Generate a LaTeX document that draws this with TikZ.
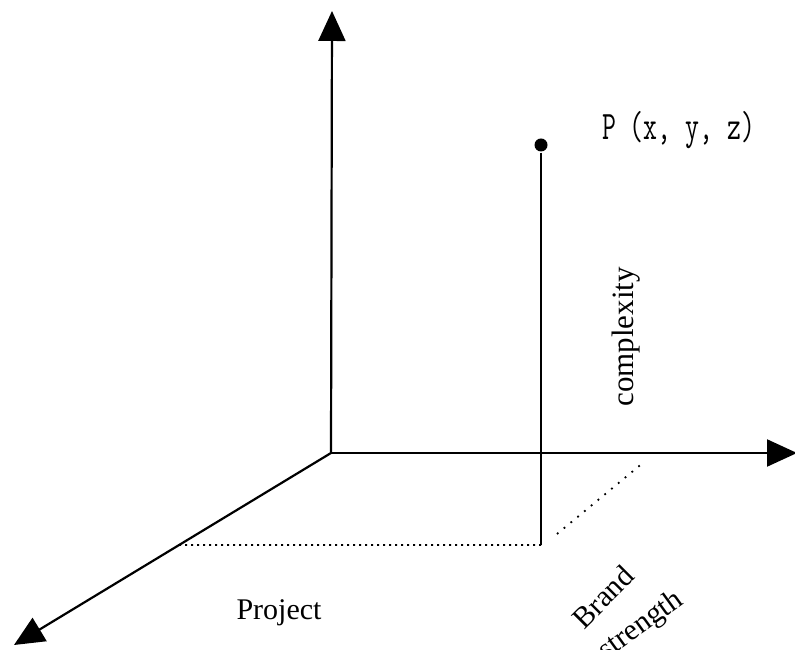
\documentclass[tikz,border=0pt]{standalone}
\usepackage{fontspec}
\setmainfont{Liberation Serif}
\usetikzlibrary{arrows.meta, calc}

\begin{document}
\begin{tikzpicture}[x=1pt, y=1pt, >={Triangle[length=30pt, width=27pt]}, line width=2.2pt,
        axislabel/.style={font=\fontsize{30}{36}\selectfont, inner sep=0pt},
        guide/.style={line width=1.8pt, dash pattern=on 1.8pt off 4.2pt}]
                \useasboundingbox (0,0) rectangle (795,650);

                \coordinate (O) at (331,197);
                \coordinate (ytip) at (332,639);
                \coordinate (xtip) at (797,197);
                \coordinate (ztip) at (14,5);

                \draw[->] (O) -- (ytip);
                \draw[->] (O) -- (xtip);
                \draw[->] (O) -- (ztip);

                \node[circle, fill, inner sep=0pt, minimum size=13pt] (P) at (541,505) {};
                \coordinate (F) at (541,105);
                \coordinate (Fz) at ($(O)!0.479!(ztip)$);
                \coordinate (d1) at (557,116);
                \coordinate (d2) at (644,188);

                \draw (P) -- (F);
                \draw[guide] (F) -- (Fz);
                \draw[guide, dash pattern=on 1.8pt off 7pt] (d1) -- (d2);

                \node[font=\ttfamily\fontsize{27}{32}\selectfont, yscale=1.5, anchor=base west, inner sep=0pt] (Plabel) at (601,510) {P (x, y, z)};
                \node[axislabel, font=\fontsize{31}{36}\selectfont, rotate=90] (complexity) at (626,313) {complexity};
                \node[axislabel, anchor=base] (project) at (279,30) {Project};
                \node[axislabel, rotate=45] (brand) at (603,53) {Brand};
                \node[axislabel, rotate=36] (strength) at (641,24) {strength};
            \end{tikzpicture}
\end{document}
